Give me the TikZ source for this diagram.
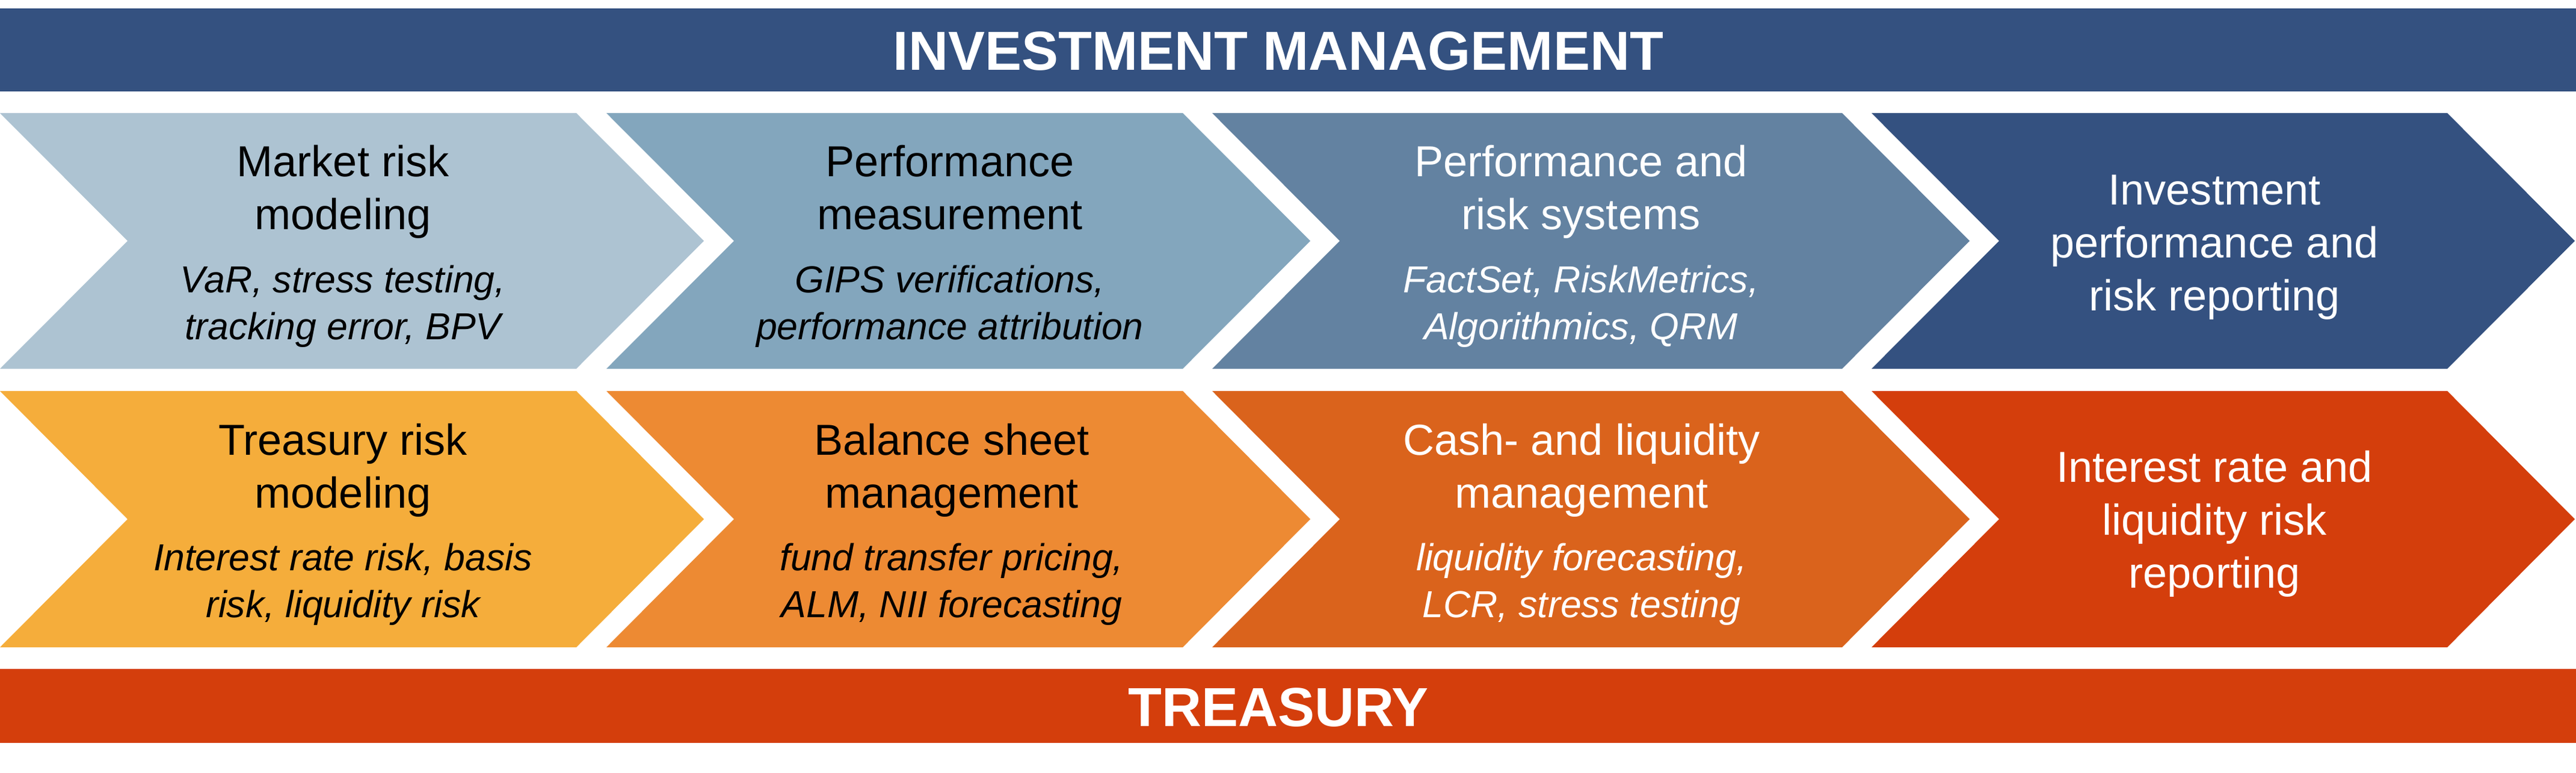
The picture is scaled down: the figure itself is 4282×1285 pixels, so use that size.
\documentclass[tikz,border=0pt]{standalone}
\usepackage{fontspec}
\setmainfont{Liberation Sans}
\usepackage{xcolor}
\definecolor{invest}{RGB}{52,81,128}
\definecolor{investA}{RGB}{173,195,210}
\definecolor{investB}{RGB}{131,166,189}
\definecolor{investC}{RGB}{99,130,161}
\definecolor{treasury}{RGB}{212,62,12}
\definecolor{treasuryA}{RGB}{245,173,59}
\definecolor{treasuryB}{RGB}{237,138,51}
\definecolor{treasuryC}{RGB}{218,99,28}
\tikzstyle{stagetitle}=[inner sep=0pt, anchor=base, align=center, font=\fontsize{20.5}{25}\selectfont]
\tikzstyle{stagedetail}=[inner sep=0pt, anchor=base, align=center, font=\fontsize{17.8}{21.9}\selectfont\itshape]
\tikzstyle{banner}=[inner sep=0pt, anchor=base, text=white, font=\fontsize{26}{30}\selectfont\bfseries]
\tikzset{light/.style={text=white}}

\begin{document}
\begin{tikzpicture}[x=0.01cm,y=-0.01cm]
  \useasboundingbox (0,0) rectangle (4282,1285);
  %% Banners
  \fill[invest] (0,14) rectangle (4282,152);
  \draw (2125,117) node[banner] (IM) {INVESTMENT MANAGEMENT};
  \fill[treasury] (0,1112) rectangle (4282,1235);
  \draw (2125,1207) node[banner] (TR) {TREASURY};

  %% Investment management row
  \fill[investA] (0,188) -- (958,188) -- (1170,400.5) -- (958,613) -- (0,613) -- (212,400.5) -- cycle;
  \fill[investB] (1008,188) -- (1966,188) -- (2178,400.5) -- (1966,613) -- (1008,613) -- (1220,400.5) -- cycle;
  \fill[investC] (2015,188) -- (3062,188) -- (3274,400.5) -- (3062,613) -- (2015,613) -- (2227,400.5) -- cycle;
  \fill[invest] (3111,188) -- (4068,188) -- (4280,400.5) -- (4068,613) -- (3111,613) -- (3323,400.5) -- cycle;

  % base anchor sits on the last line
  \draw (570,381) node[stagetitle] (I1) {Market risk\\modeling};
  \draw (570,564) node[stagedetail] (I1d) {VaR, stress testing,\\tracking error, BPV};
  \draw (1579,381) node[stagetitle] (I2) {Performance\\measurement};
  \draw (1579,564) node[stagedetail] (I2d) {GIPS verifications,\\performance attribution};
  \draw (2628,381) node[stagetitle,light] (I3) {Performance and\\risk systems};
  \draw (2628,564) node[stagedetail,light] (I3d) {FactSet, RiskMetrics,\\Algorithmics, QRM};
  \draw (3681,516) node[stagetitle,light] (I4) {Investment\\performance and\\risk reporting};

  %% Treasury row
  \fill[treasuryA] (0,650) -- (958,650) -- (1170,863) -- (958,1076) -- (0,1076) -- (212,863) -- cycle;
  \fill[treasuryB] (1008,650) -- (1966,650) -- (2178,863) -- (1966,1076) -- (1008,1076) -- (1220,863) -- cycle;
  \fill[treasuryC] (2015,650) -- (3062,650) -- (3274,863) -- (3062,1076) -- (2015,1076) -- (2227,863) -- cycle;
  \fill[treasury] (3111,650) -- (4068,650) -- (4280,863) -- (4068,1076) -- (3111,1076) -- (3323,863) -- cycle;

  \draw (570,844) node[stagetitle] (T1) {Treasury risk\\modeling};
  \draw (570,1026) node[stagedetail] (T1d) {Interest rate risk, basis\\risk, liquidity risk};
  \draw (1582,844) node[stagetitle] (T2) {Balance sheet\\management};
  \draw (1582,1026) node[stagedetail] (T2d) {fund transfer pricing,\\ALM, NII forecasting};
  \draw (2629,844) node[stagetitle,light] (T3) {Cash- and liquidity\\management};
  \draw (2629,1026) node[stagedetail,light] (T3d) {liquidity forecasting,\\LCR, stress testing};
  \draw (3681,977) node[stagetitle,light] (T4) {Interest rate and\\liquidity risk\\reporting};
\end{tikzpicture}
\end{document}
